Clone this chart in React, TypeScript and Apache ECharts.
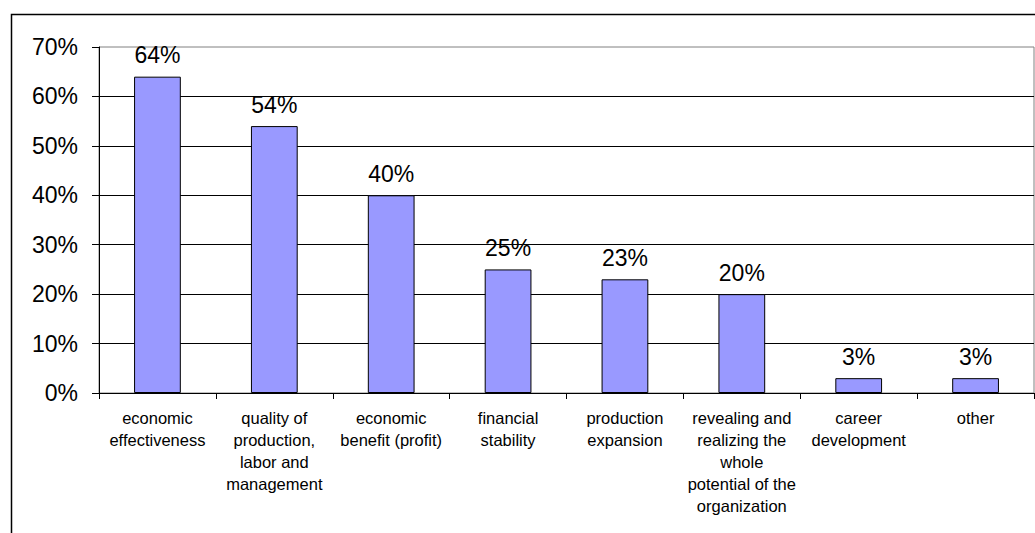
import React, { useEffect, useRef } from "react";
import * as echarts from "echarts";

const categories: string[] = [
  "economic\neffectiveness",
  "quality of\nproduction,\nlabor and\nmanagement",
  "economic\nbenefit (profit)",
  "financial\nstability",
  "production\nexpansion",
  "revealing and\nrealizing the\nwhole\npotential of the\norganization",
  "career\ndevelopment",
  "other",
];
const shares: number[] = [64, 54, 40, 25, 23, 20, 3, 3];
const yMin = 0;
const yMax = 70;
const yStep = 10;

const FONT = "'Liberation Sans', Arial, sans-serif";

export default function App() {
  const ref = useRef<HTMLDivElement>(null);
  useEffect(() => {
    if (!ref.current) return;
    const chart = echarts.init(ref.current, undefined, { renderer: "svg" });
    chart.setOption({
      animation: false,
      backgroundColor: "#ffffff",
      textStyle: { fontFamily: FONT, color: "#000" },
      graphic: [
        {
          type: "rect",
          left: 9,
          top: 12,
          shape: { width: 1200, height: 800 },
          style: { fill: "none", stroke: "#000", lineWidth: 1.5 },
          z: 100,
          silent: true,
        },
      ],
      grid: {
        left: 99,
        top: 47,
        right: 1,
        bottom: 140,
        show: true,
        borderColor: "#808080",
        borderWidth: 1,
        backgroundColor: "transparent",
      },
      xAxis: {
        type: "category",
        data: categories,
        axisLine: { show: true, lineStyle: { color: "#000", width: 1 } },
        axisTick: { show: true, length: 6, lineStyle: { color: "#000" } },
        axisLabel: {
          interval: 0,
          margin: 14,
          fontSize: 16.5,
          lineHeight: 22,
          color: "#000",
          fontFamily: FONT,
          align: "center",
        },
        splitLine: { show: false },
      },
      yAxis: {
        type: "value",
        min: yMin,
        max: yMax,
        interval: yStep,
        axisLine: { show: true, lineStyle: { color: "#000", width: 1 } },
        axisTick: { show: true, length: 7, lineStyle: { color: "#000" } },
        axisLabel: {
          formatter: "{value}%",
          fontSize: 23,
          margin: 21,
          color: "#000",
          fontFamily: FONT,
        },
        splitLine: {
          show: true,
          showMaxLine: false,
          lineStyle: { color: "#000", width: 1 },
        },
      },
      series: [
        {
          type: "bar",
          data: shares,
          barWidth: "40%",
          itemStyle: { color: "#9999FF", borderColor: "#000", borderWidth: 1 },
          label: {
            show: true,
            position: "top",
            distance: 10,
            formatter: "{c}%",
            fontSize: 23,
            color: "#000",
            fontFamily: FONT,
          },
        },
      ],
    });
    return () => chart.dispose();
  }, []);
  return (
    <div
      ref={ref}
      style={{
        position: "fixed",
        left: 0,
        top: 0,
        width: 1035,
        height: 533,
        overflow: "hidden",
      }}
    />
  );
}
